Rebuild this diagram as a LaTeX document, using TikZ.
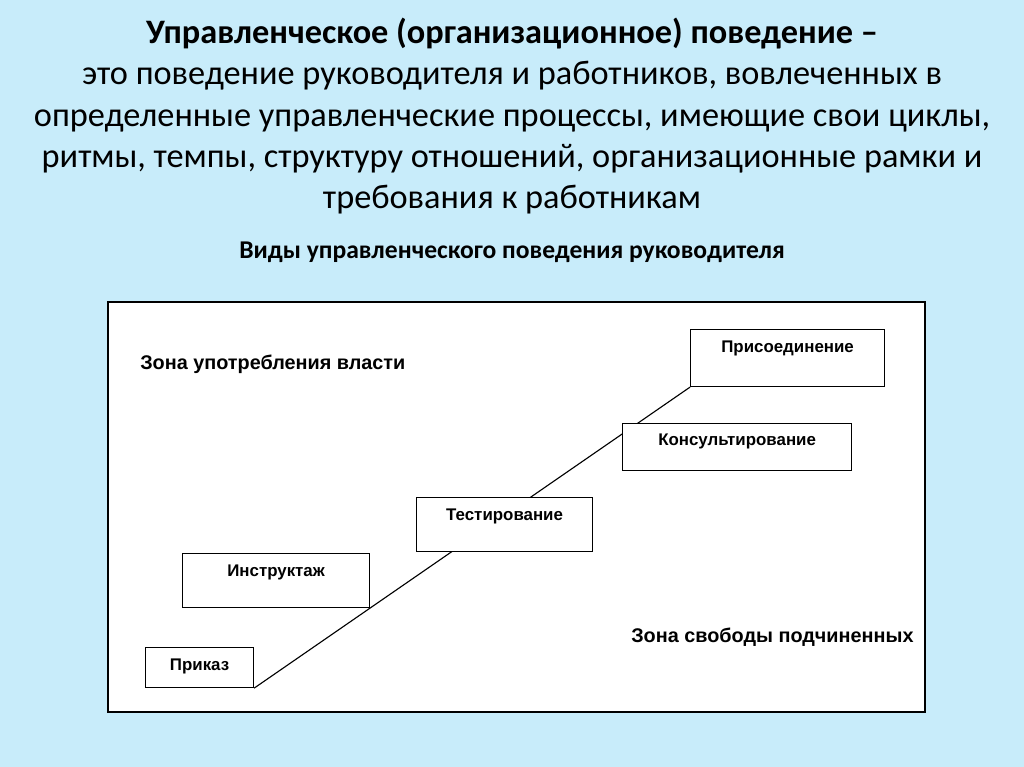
\documentclass[tikz,border=0pt]{standalone}
\usepackage{fontspec}
\setmainfont{Carlito}
\newfontfamily\arialfont{Liberation Sans}
\usepackage{xcolor}
\definecolor{slideblue}{RGB}{200,236,250}
\pgfdeclarelayer{bg}
\pgfdeclarelayer{back}
\pgfsetlayers{bg,back,main}

\begin{document}
\begin{tikzpicture}[x=0.025cm, y=-0.025cm,
  stage/.style = {draw, fill=white, line width=0.8pt, inner sep=0pt, anchor=north west,
                  font=\arialfont\bfseries\fontsize{12}{14}\selectfont},
  zone/.style = {anchor=base west, inner sep=0pt, font=\arialfont\bfseries\fontsize{14.1}{16}\selectfont}]
% slide background
\begin{pgfonlayer}{bg}
\fill[slideblue] (0,0) rectangle (1024,767);
\draw[fill=white, line width=1pt] (108,302) rectangle (925,712);
\end{pgfonlayer}
\useasboundingbox (0,0) rectangle (1024,767);

% definition
\node[align=center, font=\fontsize{24.4}{29.4}\selectfont, anchor=base] (definition) at (512,209)
  {\textbf{Управленческое (организационное) поведение –}\\
   это поведение руководителя и работников, вовлеченных в\\
   определенные управленческие процессы, имеющие свои циклы,\\
   ритмы, темпы, структуру отношений, организационные рамки и\\
   требования к работникам};
\node[font=\bfseries\fontsize{18.2}{20}\selectfont, anchor=base] (kinds) at (512,259)
  {Виды управленческого поведения руководителя};

% zones
\node[zone] (power) at (140,369) {Зона употребления власти};
\node[zone] (freedom) at (631,642) {Зона свободы подчиненных};

% stages
\node[stage, minimum width=2.7cm, text height=0.575cm, text depth=0.425cm] (prikaz) at (145,647) {Приказ};
\node[stage, minimum width=4.675cm, text height=0.575cm, text depth=0.775cm] (instr) at (182,553) {Инструктаж};
\node[stage, minimum width=4.4cm, text height=0.575cm, text depth=0.775cm] (test) at (416,497) {Тестирование};
\node[stage, minimum width=5.725cm, text height=0.55cm, text depth=0.625cm] (konsult) at (622,423) {Консультирование};
\node[stage, minimum width=4.85cm, text height=0.575cm, text depth=0.85cm] (prisoed) at (690,329) {Присоединение};

% staircase line behind the boxes
\begin{pgfonlayer}{back}
\draw[line width=0.8pt] (prikaz.south east) -- (prisoed.south west);
\end{pgfonlayer}

\end{tikzpicture}
\end{document}
